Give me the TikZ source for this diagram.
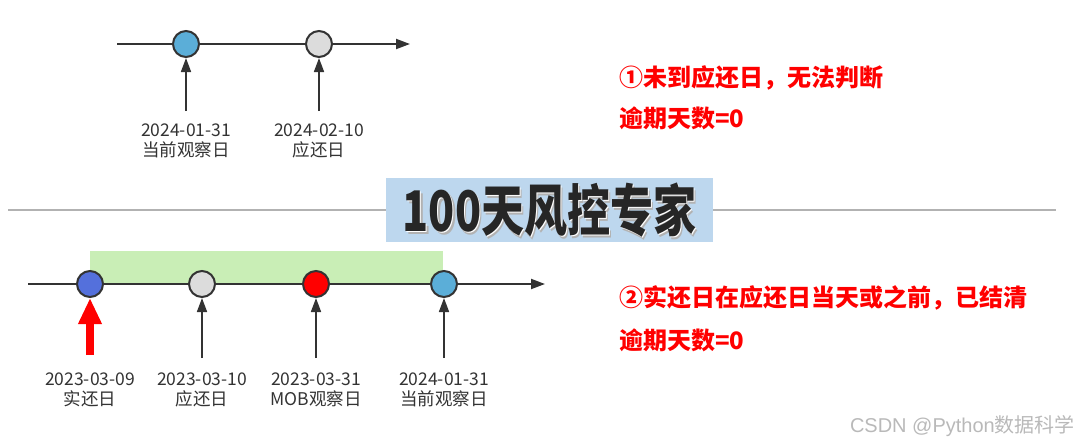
\documentclass[tikz,border=0pt]{standalone}
\usepackage{fontspec}
\setmainfont{Noto Sans CJK SC}
\newfontfamily\wmlatin{Liberation Sans}
\usetikzlibrary{arrows.meta}
\definecolor{axis}{HTML}{333333}
\definecolor{lbl}{HTML}{333333}
\definecolor{ptblue}{HTML}{5BAED8}
\definecolor{ptgray}{HTML}{DCDCDC}
\definecolor{ptdblue}{HTML}{5470DC}
\definecolor{ptred}{HTML}{FF0000}
\definecolor{boxblue}{HTML}{BDD7EE}
\definecolor{boxgreen}{HTML}{C9EEB6}
\begin{document}
\begin{tikzpicture}[x=1pt,y=-1pt,
  axisline/.style={draw=axis,line width=2pt,-{Triangle[length=14pt,width=10pt]}},
  pt/.style={circle,draw=axis,line width=2pt,minimum size=26pt,inner sep=0pt},
  ptr/.style={draw=axis,line width=1.6pt,-{Triangle[length=14pt,width=10pt]}},
  lab/.style={text=lbl,font=\fontsize{17.5pt}{20pt}\selectfont,align=center,inner sep=0pt},
  note/.style={text=red,font=\bfseries\fontsize{24pt}{28pt}\selectfont,anchor=west,inner sep=0pt},
  ttl/.style={font=\bfseries\fontsize{50pt}{54pt}\selectfont,xscale=0.86,yscale=1.12,inner sep=0pt}]
\useasboundingbox (0,0) rectangle (1080,445);
% ---------- top timeline
\coordinate (t0) at (117,44);
\coordinate (t1) at (410,44);
\draw[axisline] (t0) -- (t1);
\node[pt,fill=ptblue] (ta) at (186,44) {};
\node[pt,fill=ptgray] (tb) at (319,44) {};
\coordinate (tas) at (186,111);
\coordinate (tbs) at (319,111);
\draw[ptr] (tas) -- (ta.south);
\draw[ptr] (tbs) -- (tb.south);
\node[lab] (tla) at (186,141) {2024-01-31\\当前观察日};
\node[lab] (tlb) at (319,141) {2024-02-10\\应还日};
\node[note] (n1) at (619,78) {①未到应还日，无法判断};
\node[note] (n2) at (619,118) {逾期天数=0};
% ---------- divider and title
\coordinate (d0) at (8,210);
\coordinate (d1) at (1056,210);
\draw[color=gray!60,line width=2pt] (d0) -- (d1);
\node[fill=boxblue,minimum width=327pt,minimum height=64pt,inner sep=0pt] (tbox) at (549.5,210) {};
\node[ttl,text=gray!60] (tshadow) at (552,213) {100天风控专家};
\node[ttl,text=white] (thalo) at (550.5,211.5) {100天风控专家};
\node[ttl,text=black!85] (title) at (549.5,210.5) {100天风控专家};
% ---------- bottom timeline
\node[fill=boxgreen,minimum width=353pt,minimum height=32pt,inner sep=0pt,anchor=north west] (gbar) at (90,251) {};
\coordinate (b0) at (28,284);
\coordinate (b1) at (545,284);
\draw[axisline] (b0) -- (b1);
\node[pt,fill=ptdblue] (ba) at (90,284) {};
\node[pt,fill=ptgray] (bb) at (202,284) {};
\node[pt,fill=ptred] (bc) at (316,284) {};
\node[pt,fill=ptblue] (bd) at (444,284) {};
\coordinate (bas) at (90,355);
\coordinate (bbs) at (202,358);
\coordinate (bcs) at (316,358);
\coordinate (bds) at (444,358);
\draw[draw=red,line width=8pt,-{Triangle[length=26pt,width=22pt]}] (bas) -- (ba.south);
\draw[ptr] (bbs) -- (bb.south);
\draw[ptr] (bcs) -- (bc.south);
\draw[ptr] (bds) -- (bd.south);
\node[lab] (bla) at (90,390) {2023-03-09\\实还日};
\node[lab] (blb) at (202,390) {2023-03-10\\应还日};
\node[lab] (blc) at (316,390) {2023-03-31\\MOB观察日};
\node[lab] (bld) at (444,390) {2024-01-31\\当前观察日};
\node[note] (n3) at (619,298) {②实还日在应还日当天或之前，已结清};
\node[note] (n4) at (619,340) {逾期天数=0};
% ---------- watermark
\node[text=gray!55,font=\fontsize{20pt}{24pt}\selectfont,anchor=east,inner sep=0pt] (wm) at (1075,426) {{\wmlatin CSDN @Python}数据科学};
\end{tikzpicture}
\end{document}
